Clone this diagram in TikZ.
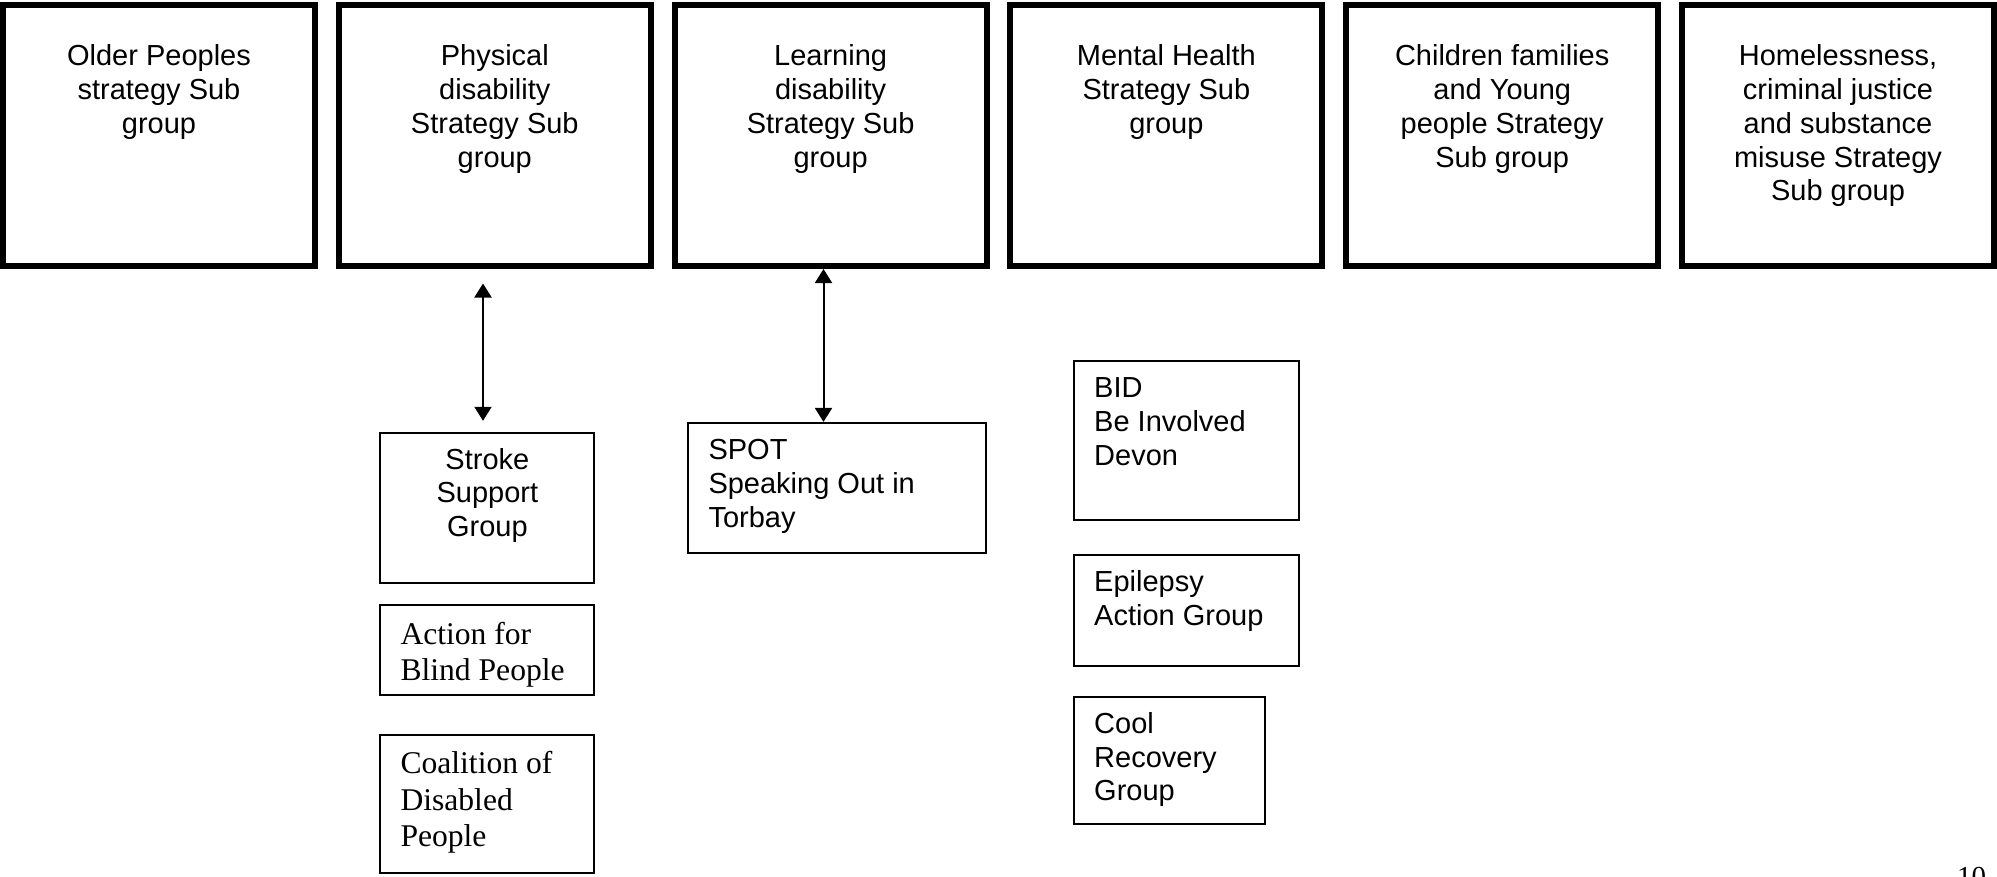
\documentclass[tikz,border=0pt]{standalone}
\usepackage{fontspec}
\newfontfamily\sansA{Liberation Sans}
\newfontfamily\serifT{Liberation Serif}
\usetikzlibrary{arrows.meta,calc}
\begin{document}
\begin{tikzpicture}[x=1pt,y=-1pt,
  topbox/.style={draw, line width=6pt, minimum width=312pt, minimum height=261pt, inner sep=0pt},
  subbox/.style={draw, line width=2pt, inner sep=0pt},
  toptext/.style={anchor=base, align=center, inner sep=0pt, font=\sansA\fontsize{29}{33.8}\selectfont},
  sanstext/.style={inner sep=0pt, font=\sansA\fontsize{29}{33.8}\selectfont},
  seriftext/.style={anchor=base west, align=left, inner sep=0pt, font=\serifT\fontsize{31.6}{36.5}\selectfont},
  dbl/.style={line width=2pt, {Triangle[length=14pt,width=17pt]}-{Triangle[length=14pt,width=17pt]}}
]
\useasboundingbox (0,0) rectangle (1997,876);

% top strategy boxes
\node[topbox] (b1) at (159,135.5) {};
\node[topbox] (b2) at (494.8,135.5) {};
\node[topbox] (b3) at (830.6,135.5) {};
\node[topbox] (b4) at (1166.4,135.5) {};
\node[topbox] (b5) at (1502.2,135.5) {};
\node[topbox] (b6) at (1838,135.5) {};

% (base anchor = baseline of the last line)
\node[toptext] (t1) at (159,133.3) {Older Peoples\\strategy Sub\\group};
\node[toptext] (t2) at (494.8,167.1) {Physical\\disability\\Strategy Sub\\group};
\node[toptext] (t3) at (830.6,167.1) {Learning\\disability\\Strategy Sub\\group};
\node[toptext] (t4) at (1166.4,133.3) {Mental Health\\Strategy Sub\\group};
\node[toptext] (t5) at (1502.2,167.1) {Children families\\and Young\\people Strategy\\Sub group};
\node[toptext] (t6) at (1838,200.9) {Homelessness,\\criminal justice\\and substance\\misuse Strategy\\Sub group};

% lower boxes
\node[subbox, minimum width=214.1pt, minimum height=149.5pt] (stroke) at (487.35,508.15) {};
\node[subbox, minimum width=214.1pt, minimum height=89.6pt] (blind) at (487.35,650.2) {};
\node[subbox, minimum width=214.1pt, minimum height=138.1pt] (coal) at (487.35,803.95) {};
\node[subbox, minimum width=298pt, minimum height=130.2pt] (spot) at (837.3,488) {};
\node[subbox, minimum width=225.3pt, minimum height=159.4pt] (bid) at (1186.35,440.5) {};
\node[subbox, minimum width=225.3pt, minimum height=110.5pt] (epi) at (1186.35,610.25) {};
\node[subbox, minimum width=191.3pt, minimum height=127.2pt] (cool) at (1169.35,760.2) {};

\node[sanstext, anchor=base, align=center] (strokeT) at (487.35,536.6) {Stroke\\Support\\Group};
\node[seriftext] (blindT) at (400.3,680.5) {Action for\\Blind People};
\node[seriftext] (coalT) at (400.3,846.7) {Coalition of\\Disabled\\People};
\node[sanstext, anchor=base west, align=left] (spotT) at (708.3,527) {SPOT\\Speaking Out in\\Torbay};
\node[sanstext, anchor=base west, align=left] (bidT) at (1094,465.2) {BID\\Be Involved\\Devon};
\node[sanstext, anchor=base west, align=left] (epiT) at (1094,625.1) {Epilepsy\\Action Group};
\node[sanstext, anchor=base west, align=left] (coolT) at (1094,800.8) {Cool\\Recovery\\Group};

% connectors
\coordinate (a1x) at (483,0);
\coordinate (a2x) at (823.5,0);
\draw[dbl] ($(b2.south -| a1x)+(0,14.5)$) -- ($(stroke.north -| a1x)+(0,-11.6)$);
\draw[dbl] (b3.south -| a2x) -- (spot.north -| a2x);

% page number (cut off at the bottom)
\node[anchor=base west, inner sep=0pt, font=\serifT\fontsize{29}{33}\selectfont] (pg) at (1957,886) {10};
\end{tikzpicture}
\end{document}
